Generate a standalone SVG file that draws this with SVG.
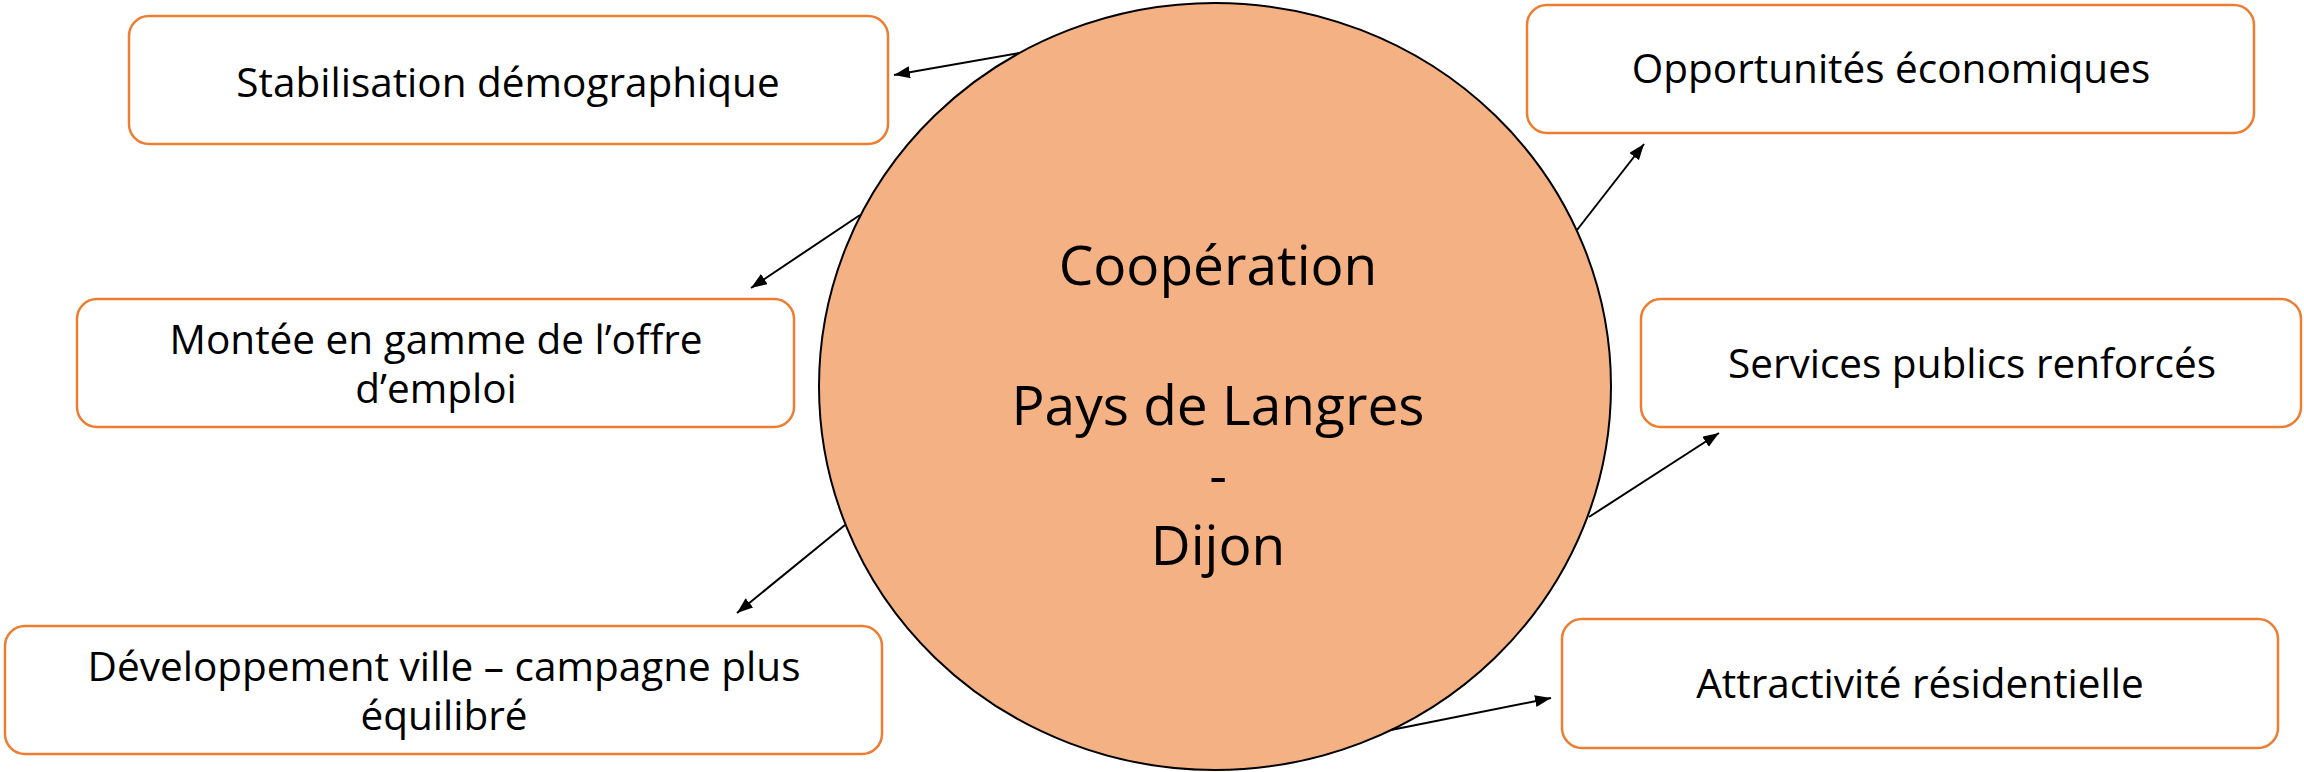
<svg xmlns="http://www.w3.org/2000/svg" width="2304" height="772" viewBox="0 0 2304 772">
<style>
.box{fill:#FFFFFF;stroke:#ED7D31;stroke-width:2.5}
.lbl{font-family:"Open Sans","Noto Sans",sans-serif;font-size:40.5px;fill:#000000;text-anchor:middle}
.big{font-family:"Open Sans","Noto Sans",sans-serif;font-size:55px;fill:#000000;text-anchor:middle}
.conn{stroke:#000000;stroke-width:2;fill:none;marker-end:url(#arr)}
</style>
<defs>
<marker id="arr" markerUnits="userSpaceOnUse" markerWidth="17" markerHeight="13" refX="16" refY="6" orient="auto">
<path d="M0,0 L16,6 L0,12 z" fill="#000000"/>
</marker>
</defs>
<rect width="2304" height="772" fill="#FFFFFF"/>
<g id="center">
<ellipse cx="1215" cy="386.5" rx="396" ry="383.5" fill="#F4B183" stroke="#000000" stroke-width="2"/>
<text class="big" x="1218" y="285">Coopération</text>
<text class="big" x="1218" y="425">Pays de Langres</text>
<text class="big" x="1218" y="495">-</text>
<text class="big" x="1218" y="565">Dijon</text>
</g>
<g id="n-stabilisation">
<rect class="box" x="129" y="16" width="759" height="128" rx="20"/>
<text class="lbl" x="508" y="97">Stabilisation démographique</text>
</g>
<g id="n-montee">
<rect class="box" x="77" y="299" width="717" height="128" rx="20"/>
<text class="lbl" x="436" y="354">Montée en gamme de l’offre</text>
<text class="lbl" x="436" y="403">d’emploi</text>
</g>
<g id="n-developpement">
<rect class="box" x="5" y="626" width="877" height="128" rx="20"/>
<text class="lbl" x="444" y="681">Développement ville – campagne plus</text>
<text class="lbl" x="444" y="730">équilibré</text>
</g>
<g id="n-opportunites">
<rect class="box" x="1527" y="5" width="727" height="128" rx="20"/>
<text class="lbl" x="1891" y="83">Opportunités économiques</text>
</g>
<g id="n-services">
<rect class="box" x="1641" y="299" width="660" height="128" rx="20"/>
<text class="lbl" x="1972" y="378">Services publics renforcés</text>
</g>
<g id="n-attractivite">
<rect class="box" x="1562" y="619" width="716" height="129" rx="20"/>
<text class="lbl" x="1920" y="698">Attractivité résidentielle</text>
</g>
<g id="connectors">
<line class="conn" x1="1019" y1="53" x2="894" y2="75"/>
<line class="conn" x1="860" y1="215" x2="751" y2="288"/>
<line class="conn" x1="845" y1="525" x2="737" y2="613"/>
<line class="conn" x1="1577" y1="230" x2="1644" y2="144"/>
<line class="conn" x1="1589" y1="517" x2="1719" y2="433"/>
<line class="conn" x1="1391" y1="730" x2="1551" y2="698"/>
</g>
</svg>
